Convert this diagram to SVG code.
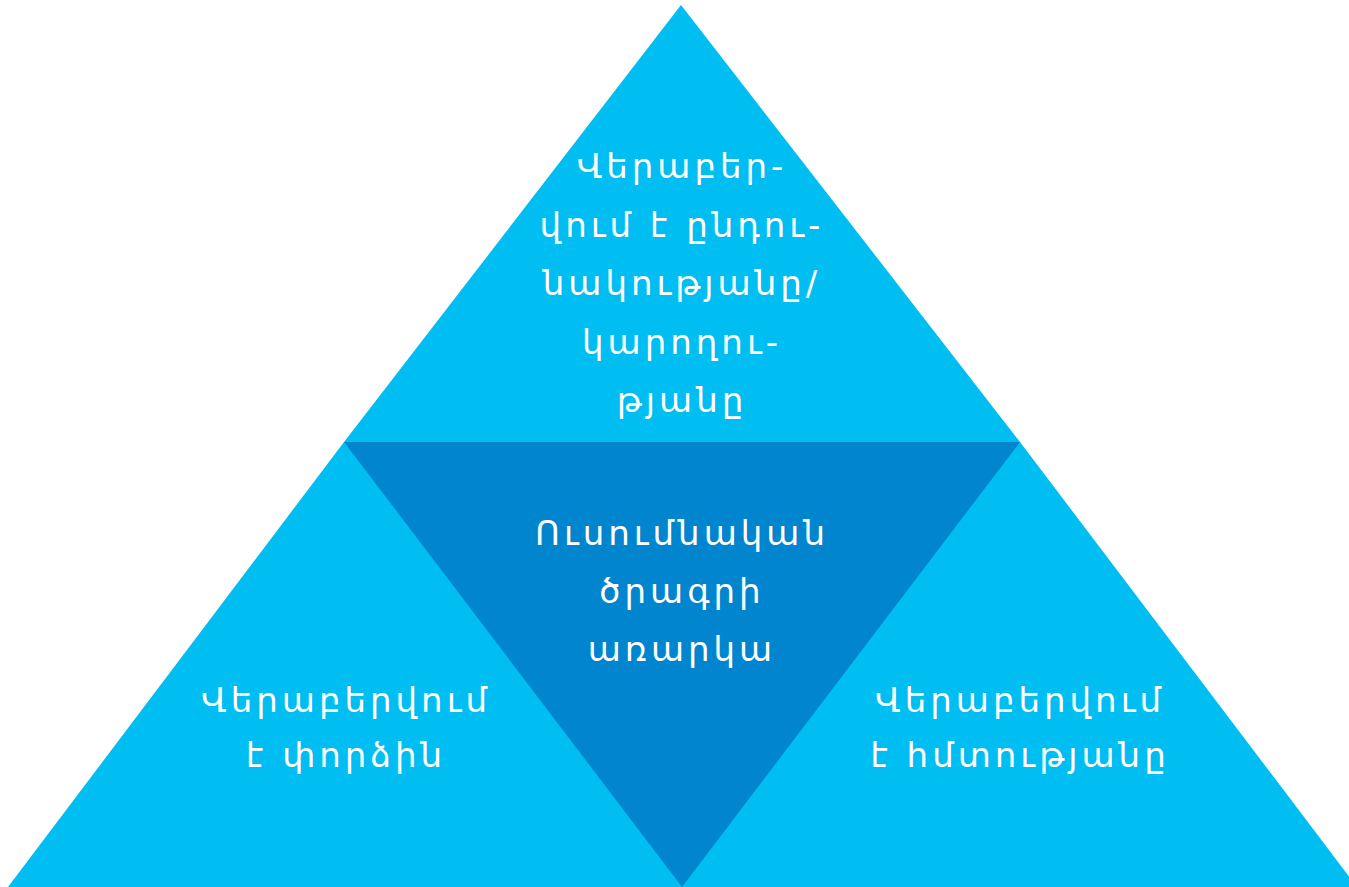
<svg xmlns="http://www.w3.org/2000/svg" width="1349" height="887" viewBox="0 0 1349 887">
<style>
.light{fill:#00BDF2;}
.dark{fill:#0085CE;}
.t{font-family:"DejaVu Sans","Noto Sans",sans-serif;font-size:34px;fill:#FFFFFF;text-anchor:middle;letter-spacing:4px;}
</style>
<rect width="1349" height="887" fill="#FFFFFF"/>
<g id="top">
<polygon class="light" points="681,5 1020,442 1017,446 347,446 344,442"/>
<text class="t"><tspan x="682" y="178">Վերաբեր-</tspan><tspan x="682" y="236.5">վում է ընդու-</tspan><tspan x="682" y="295">նակությանը/</tspan><tspan x="682" y="353.5">կարողու-</tspan><tspan x="682" y="412">թյանը</tspan></text>
</g>
<g id="left">
<polygon class="light" points="344,442 350,442 686,887 8,887"/>
<text class="t"><tspan x="346" y="712">Վերաբերվում</tspan><tspan x="346" y="767">է փորձին</tspan></text>
</g>
<g id="right">
<polygon class="light" points="1014,442 1020,442 1357,887 678,887"/>
<text class="t"><tspan x="1020" y="712">Վերաբերվում</tspan><tspan x="1020" y="767">է հմտությանը</tspan></text>
</g>
<g id="center">
<polygon class="dark" points="344,442 1020,442 682,887"/>
<text class="t"><tspan x="682" y="545">Ուսումնական</tspan><tspan x="682" y="603">ծրագրի</tspan><tspan x="682" y="661">առարկա</tspan></text>
</g>
<g id="connectors"/>
</svg>
